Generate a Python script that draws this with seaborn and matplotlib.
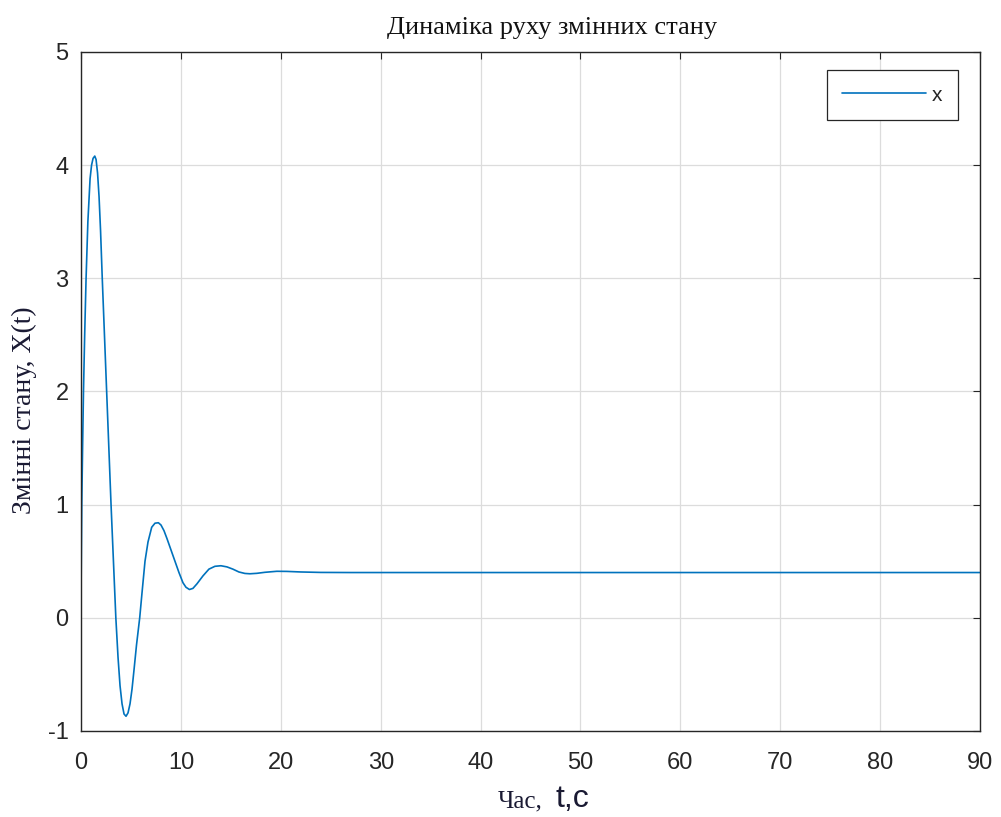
import numpy as np
import pandas as pd
import matplotlib
matplotlib.use("Agg")
from matplotlib import pyplot as plt
import seaborn as sns

# values
t_vals = [0, 0.03, 0.07, 0.15, 0.24, 0.36, 0.5, 0.68, 0.9, 1.05, 1.2, 1.37,
          1.5, 1.65, 1.8, 1.95, 2.12, 2.34, 2.56, 2.78, 3.0, 3.24, 3.48, 3.7,
          3.9, 4.1, 4.3, 4.5, 4.7, 4.9, 5.1, 5.3, 5.55, 5.87, 6.1, 6.4, 6.7,
          7.07, 7.4, 7.74, 8.0, 8.3, 8.6, 9.0, 9.4, 9.8, 10.2, 10.5, 10.85,
          11.2, 11.6, 12.2, 12.8, 13.4, 14.0, 14.6, 15.2, 15.8, 16.4, 16.9,
          17.6, 18.4, 19.6, 20.6, 22.0, 24.0, 27.0, 30.0, 40.0, 60.0, 90.0]
x_vals = [0.26, 0.6, 1.0, 1.5, 2.0, 2.5, 3.0, 3.5, 3.88, 4.0, 4.06, 4.08,
          4.05, 3.93, 3.72, 3.42, 3.0, 2.5, 2.0, 1.5, 1.0, 0.5, 0.0, -0.35,
          -0.6, -0.76, -0.85, -0.87, -0.84, -0.76, -0.63, -0.46, -0.24, 0.0, 0.22, 0.5, 0.67,
          0.8, 0.836, 0.84, 0.82, 0.77, 0.7, 0.6, 0.5, 0.4, 0.31, 0.27, 0.25,
          0.26, 0.3, 0.37, 0.43, 0.455, 0.46, 0.45, 0.43, 0.405, 0.392, 0.389,
          0.393, 0.402, 0.411, 0.41, 0.405, 0.401, 0.40, 0.40, 0.40, 0.40, 0.40]
x_ticks = [0, 10, 20, 30, 40, 50, 60, 70, 80, 90]
y_ticks = [-1, 0, 1, 2, 3, 4, 5]

df = pd.DataFrame({"t": t_vals, "x": x_vals})

sns.set_style("white")
plt.rcParams["font.family"] = ["Liberation Sans", "DejaVu Sans"]
plt.rcParams["axes.unicode_minus"] = False

fig = plt.figure(figsize=(10.01, 8.17), dpi=100)
ax = fig.add_axes([0.081, 0.1053, 0.898, 0.8311])

sns.lineplot(data=df, x="t", y="x", ax=ax, color="#0072BD", linewidth=1.2,
             label="x", estimator=None, sort=False)

ax.set_xlim(0, 90)
ax.set_ylim(-1, 5)
ax.set_xticks(x_ticks)
ax.set_yticks(y_ticks)
ax.grid(True, color="#dcdcdc", linewidth=0.9)
ax.set_axisbelow(True)
for s in ax.spines.values():
    s.set_color("#262626")
    s.set_linewidth(1.0)
ax.tick_params(direction="in", length=5, width=0.8, colors="#262626",
               labelsize=17, top=True, right=True, labelcolor="#262626")
ax.tick_params(axis="x", pad=15)
ax.tick_params(axis="y", pad=9)

ax.set_xlabel("")
ax.set_ylabel("Змінні стану, X(t)", family="Liberation Serif", fontsize=20,
              color="#1a1a33")
ax.yaxis.set_label_coords(-0.049, 0.473)
ax.set_title("Динаміка руху змінних стану", family="Liberation Serif",
             fontsize=19, color="#111111", pad=13, x=0.524)

fig.text(0.542, 0.012, "Час,", family="Liberation Serif", fontsize=18,
         color="#1a1a33", ha="right", va="baseline")
fig.text(0.555, 0.012, "t,c", family="Liberation Sans", fontsize=23,
         color="#1a1a33", ha="left", va="baseline")

leg = ax.legend(loc="upper right", fontsize=15, handlelength=4.0,
                handletextpad=0.3, fancybox=False, framealpha=1,
                edgecolor="#262626", borderpad=0.75,
                bbox_to_anchor=(0.9755, 0.9735), borderaxespad=0)
leg.get_frame().set_linewidth(0.9)

fig.savefig("out.png", dpi=100)
